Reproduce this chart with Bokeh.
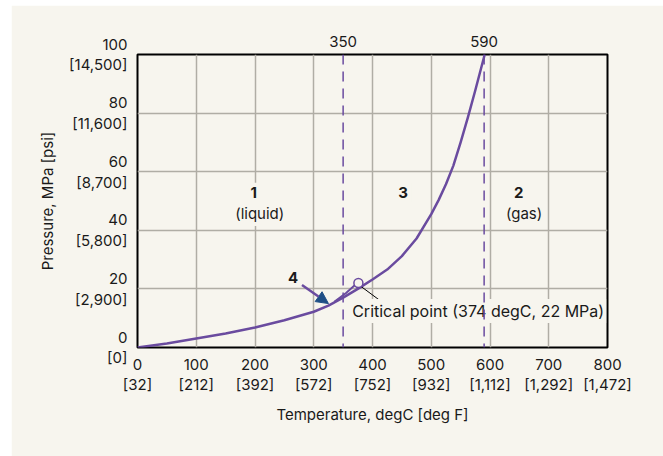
from bokeh.plotting import figure
from bokeh.models import LinearAxis, FixedTicker, Range1d, Arrow, NormalHead, Span
from bokeh.core.properties import value
from bokeh.embed import file_html
from bokeh.resources import INLINE

# ---- data ----
curve_temp = [0, 50, 100, 150, 200, 250, 300, 325, 350, 375, 400, 425, 450, 475, 500,
              512.5, 525, 537.5, 550, 562.5, 575, 591]
curve_pres = [0, 1.4, 3.1, 4.8, 6.8, 9.3, 12.2, 14.3, 17.0, 20.0, 23.2, 26.6, 31.2, 37.2, 45.5,
              50.3, 55.7, 62.0, 70.0, 78.6, 87.8, 100.0]

branch_temp = [335, 355, 374]
branch_pres = [15.6, 18.6, 22.0]

critical_temp = [376]
critical_pres = [22]

divider_temps = [350, 590]

x_ticks = [0, 100, 200, 300, 400, 500, 600, 700, 800]
x_tick_labels = ["0\n[32]", "100\n[212]", "200\n[392]", "300\n[572]", "400\n[752]",
                 "500\n[932]", "600\n[1,112]", "700\n[1,292]", "800\n[1,472]"]
y_ticks = [0, 20, 40, 60, 80, 100]
y_tick_labels = ["0\n[0]", "20\n[2,900]", "40\n[5,800]", "60\n[8,700]", "80\n[11,600]", "100\n[14,500]"]

region_num_x = [198, 452, 649]
region_num_y = [53, 53, 53]
region_num_text = ["1", "3", "2"]
region_name_x = [208, 658]
region_name_y = [45.7, 45.7]
region_name_text = ["(liquid)", "(gas)"]

label4_x = [265]
label4_y = [23.8]
arrow4_start = (280, 21.3)
arrow4_end = (325, 15.0)

leader_start = (378, 21.2)
leader_end = (413, 16.0)
crit_text_x = [362]
crit_text_y = [12.5]
crit_text = ["Critical point (374 degC, 22 MPa)"]

# ---- style ----
FONT = "Inter"
BG = "#f7f5ee"
PURPLE = "#6a4b9f"
GRID = "#b0ada5"
TXT = "#1a1a1a"

p = figure(width=652, height=451, output_backend="svg", toolbar_location=None,
           x_range=Range1d(0, 800), y_range=Range1d(0, 100),
           min_border_left=126, min_border_right=56, min_border_top=49, min_border_bottom=109)
p.margin = (5, 0, 0, 11)
p.background_fill_color = BG
p.border_fill_color = BG
p.outline_line_color = "black"
p.outline_line_width = 2
p.outline_line_alpha = 1

for g in (p.xgrid, p.ygrid):
    g.grid_line_color = GRID
    g.grid_line_width = 1.5

bottom = p.below[0]
left = p.left[0]
bottom.ticker = FixedTicker(ticks=x_ticks)
left.ticker = FixedTicker(ticks=y_ticks)
bottom.major_label_overrides = dict(zip(x_ticks, x_tick_labels))
left.major_label_overrides = dict(zip(y_ticks, y_tick_labels))
bottom.axis_label = "Temperature, degC [deg F]"
left.axis_label = "Pressure, MPa [psi]"

top = LinearAxis(ticker=FixedTicker(ticks=divider_temps))
p.add_layout(top, "above")

for ax in (bottom, left, top):
    ax.axis_line_color = None
    ax.major_tick_line_color = None
    ax.minor_tick_line_color = None
    ax.major_tick_out = 0
    ax.major_tick_in = 0
    ax.major_label_text_font = FONT
    ax.major_label_text_font_size = "15px"
    ax.major_label_text_color = TXT
    ax.major_label_text_line_height = 1.1
    ax.axis_label_text_font = FONT
    ax.axis_label_text_font_size = "15px"
    ax.axis_label_text_font_style = "normal"
    ax.axis_label_text_color = TXT

left.major_label_text_baseline = "alphabetic"
bottom.major_label_standoff = 7
left.major_label_standoff = 10
bottom.axis_label_standoff = 8
left.axis_label_standoff = 9
top.major_label_standoff = 8

for t in divider_temps:
    p.add_layout(Span(location=t, dimension="height", line_color=PURPLE,
                      line_width=1.5, line_dash="10 7"))

p.line(curve_temp, curve_pres, line_color=PURPLE, line_width=2.5, line_join="round")
p.line(branch_temp, branch_pres, line_color=PURPLE, line_width=2, line_join="round")
p.segment(x0=[leader_start[0]], y0=[leader_start[1]], x1=[leader_end[0]], y1=[leader_end[1]],
          line_color="black", line_width=1)
p.scatter(critical_temp, critical_pres, size=9, fill_color=BG, line_color=PURPLE, line_width=1.5)

p.add_layout(Arrow(end=NormalHead(size=12, fill_color="#1f4f86", line_color="#1f4f86"),
                   x_start=arrow4_start[0], y_start=arrow4_start[1],
                   x_end=arrow4_end[0], y_end=arrow4_end[1],
                   line_color=PURPLE, line_width=2.5))

p.text(region_num_x, region_num_y, text=region_num_text, text_font=value(FONT),
       text_font_size="15px", text_font_style="bold", text_align="center",
       text_baseline="middle", text_color=TXT,
       background_fill_color=BG, padding=4)
p.text(region_name_x, region_name_y, text=region_name_text, text_font=value(FONT),
       text_font_size="15px", text_align="center", text_baseline="middle", text_color=TXT,
       background_fill_color=BG, padding=3)
p.text(label4_x, label4_y, text=["4"], text_font=value(FONT),
       text_font_size="15px", text_font_style="bold", text_align="center",
       text_baseline="middle", text_color=TXT)
p.text(crit_text_x, crit_text_y, text=crit_text, text_font=value(FONT),
       text_font_size="16px", text_align="left", text_baseline="middle", text_color=TXT,
       background_fill_color=BG, padding=2)

open("out.html", "w").write(file_html(p, INLINE))
